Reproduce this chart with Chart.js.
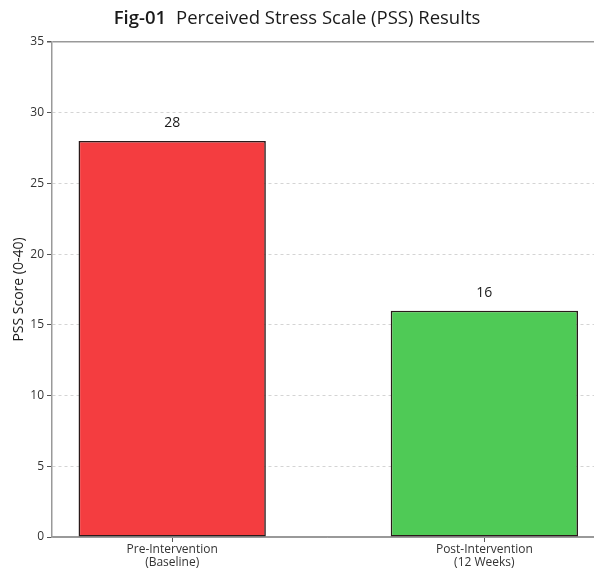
<!DOCTYPE html>
<html>
<head>
<meta charset="utf-8">
<script src="https://cdn.jsdelivr.net/npm/chart.js@4"></script>
<style>
  html, body { margin: 0; padding: 0; background: #fff; overflow: hidden; }
  #wrap { position: relative; width: 594px; height: 570px; overflow: hidden; }
  #titulo {
    position: absolute; left: 0; top: 5px; width: 594px; text-align: center;
    font-family: "Open Sans", sans-serif; font-size: 18.5px; color: #1a1a1a; line-height: 24px;
  }
  #titulo b { font-weight: 600; margin-right: 10px; }
  canvas { position: absolute; left: 0; top: 0; }
</style>
</head>
<body>
<div id="wrap">
  <canvas id="grafico" width="620" height="570" style="width:620px;height:570px"></canvas>
  <div id="titulo"><b>Fig-01</b>Perceived Stress Scale (PSS) Results</div>
</div>
<script>
const categorias = [["Pre-Intervention", "(Baseline)"], ["Post-Intervention", "(12 Weeks)"]];
const pontuacoes = [28, 16];
const cores = ["#f43d40", "#4fca56"];
const marcasY = [0, 5, 10, 15, 20, 25, 30, 35];

// rótulos de valor acima das barras
const rotulos = {
  id: "rotulos",
  afterDatasetsDraw(chart) {
    const ctx = chart.ctx;
    const meta = chart.getDatasetMeta(0);
    ctx.save();
    ctx.font = "14px 'Open Sans'";
    ctx.fillStyle = "#1a1a1a";
    ctx.textAlign = "center";
    ctx.textBaseline = "middle";
    meta.data.forEach((bar, i) => {
      ctx.fillText(String(pontuacoes[i]), bar.x, bar.y - 18);
    });
    ctx.restore();
  }
};

const ctx = document.getElementById("grafico").getContext("2d");
new Chart(ctx, {
  type: "bar",
  data: {
    datasets: [{
      data: pontuacoes.map((v, i) => ({ x: i, y: v })),
      backgroundColor: cores,
      borderColor: "#2a1a1a",
      borderWidth: 1.6,
      borderSkipped: false,
      barPercentage: 0.6,
      categoryPercentage: 1.0
    }]
  },
  options: {
    responsive: false,
    animation: false,
    layout: { padding: { top: 42, right: 17, left: 0, bottom: 0 } },
    plugins: {
      legend: { display: false },
      tooltip: { enabled: false }
    },
    scales: {
      x: {
        type: "linear",
        min: -0.385,
        max: 1.38,
        offset: false,
        afterBuildTicks: s => { s.ticks = categorias.map((c, i) => ({ value: i })); },
        afterFit: s => { s.height = 33; },
        ticks: {
          autoSkip: false,
          maxRotation: 0,
          padding: 1,
          color: "#333",
          font: { family: "Open Sans", size: 12, lineHeight: 1.1 },
          callback: v => categorias[v]
        },
        grid: { display: true, drawOnChartArea: false, drawTicks: true, tickLength: 5, tickColor: "#555", offset: false },
        border: { display: true, color: "#999", width: 1.5 }
      },
      y: {
        min: 0,
        max: 35,
        afterBuildTicks: s => { s.ticks = marcasY.map(v => ({ value: v })); },
        afterFit: s => { s.width = 52; },
        title: {
          display: true,
          text: "PSS Score (0-40)",
          color: "#1a1a1a",
          font: { family: "Open Sans", size: 14 },
          padding: { top: 11, bottom: 0 }
        },
        ticks: {
          padding: 3,
          color: "#333",
          font: { family: "Open Sans", size: 12 }
        },
        grid: {
          tickLength: 5,
          tickColor: "#555",
          color: c => (c.tick && (c.tick.value === 35 || c.tick.value === 0)) ? "#999" : "#d4d4d4",
          lineWidth: c => (c.tick && c.tick.value === 35) ? 1.5 : 1
        },
        border: {
          display: true,
          color: "#999",
          width: 1.5,
          dash: c => (c.tick && (c.tick.value === 35 || c.tick.value === 0)) ? [] : [3, 3]
        }
      }
    }
  },
  plugins: [rotulos]
});
</script>
</body>
</html>
